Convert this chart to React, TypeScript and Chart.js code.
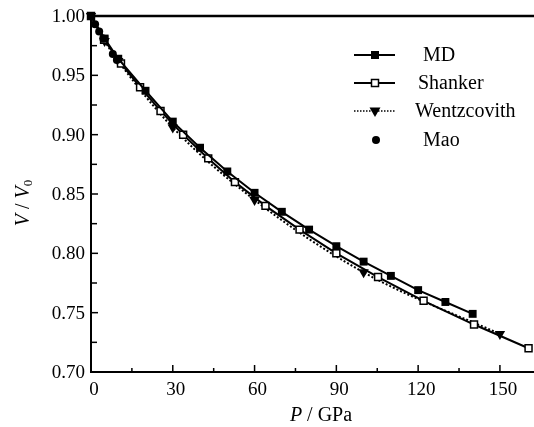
import React, { useEffect, useRef } from "react";
import { Chart, registerables } from "chart.js";

Chart.register(...registerables);

// ---- data ----
const mdP = [0, 5, 10, 20, 30, 40, 50, 60, 70, 80, 90, 100, 110, 120, 130, 140];
const mdV = [1.0, 0.981, 0.964, 0.937, 0.911, 0.889, 0.869, 0.851, 0.835, 0.82, 0.806, 0.793, 0.781, 0.769, 0.759, 0.749];

const shankerP = [0, 4.8, 11, 18, 25.5, 33.8, 43, 52.8, 64, 76.5, 90, 105.3, 122, 140.5, 160.5];
const shankerV = [1.0, 0.98, 0.96, 0.94, 0.92, 0.9, 0.88, 0.86, 0.84, 0.82, 0.8, 0.78, 0.76, 0.74, 0.72];

const wentzP = [0, 5, 10, 30, 60, 100, 150];
const wentzV = [1.0, 0.979, 0.962, 0.906, 0.845, 0.784, 0.732];

const maoP = [0, 1.5, 3, 4.5, 8, 9.5];
const maoV = [1.0, 0.993, 0.987, 0.981, 0.968, 0.963];

const xTicks = [0, 30, 60, 90, 120, 150];
const yTicks = [0.7, 0.75, 0.8, 0.85, 0.9, 0.95, 1.0];
const xLabels = ["0", "30", "60", "90", "120", "150"];
const yLabels = ["0.70", "0.75", "0.80", "0.85", "0.90", "0.95", "1.00"];

const legendNames = ["MD", "Shanker", "Wentzcovith", "Mao"];

const X_MIN = 0;
const X_MAX = 162.5;
const Y_MIN = 0.7;
const Y_MAX = 1.0;

const SERIF = '"Liberation Serif", "Times New Roman", serif';

function toXY(p: number[], v: number[]) {
  return p.map((x, i) => ({ x, y: v[i] }));
}

type Part = { text: string; font: string; dy?: number };

function drawRich(ctx: CanvasRenderingContext2D, parts: Part[], cx: number, cy: number) {
  let total = 0;
  const widths = parts.map((pt) => {
    ctx.font = pt.font;
    const w = ctx.measureText(pt.text).width;
    total += w;
    return w;
  });
  let x = cx - total / 2;
  ctx.textAlign = "left";
  ctx.textBaseline = "middle";
  parts.forEach((pt, i) => {
    ctx.font = pt.font;
    ctx.fillText(pt.text, x, cy + (pt.dy || 0));
    x += widths[i];
  });
}

function drawMarker(ctx: CanvasRenderingContext2D, kind: string, x: number, y: number) {
  ctx.save();
  ctx.fillStyle = "#000";
  ctx.strokeStyle = "#000";
  ctx.setLineDash([]);
  if (kind === "filledSquare") {
    ctx.fillRect(x - 4, y - 4, 8, 8);
  } else if (kind === "openSquare") {
    ctx.fillStyle = "#fff";
    ctx.lineWidth = 1.5;
    ctx.fillRect(x - 3.5, y - 3.5, 7, 7);
    ctx.strokeRect(x - 3.5, y - 3.5, 7, 7);
  } else if (kind === "triangle") {
    ctx.beginPath();
    ctx.moveTo(x - 5.5, y - 3.5);
    ctx.lineTo(x + 5.5, y - 3.5);
    ctx.lineTo(x, y + 6);
    ctx.closePath();
    ctx.fill();
  } else if (kind === "circle") {
    ctx.beginPath();
    ctx.arc(x, y, 4, 0, Math.PI * 2);
    ctx.fill();
  }
  ctx.restore();
}

const framePlugin = {
  id: "frame",
  afterDraw(chart: any) {
    const ctx: CanvasRenderingContext2D = chart.ctx;
    const { left, right, top, bottom } = chart.chartArea;
    const xs = chart.scales.x;
    const ys = chart.scales.y;
    ctx.save();
    ctx.strokeStyle = "#000";
    ctx.fillStyle = "#000";
    ctx.setLineDash([]);

    // axes
    ctx.lineWidth = 2;
    ctx.beginPath();
    ctx.moveTo(left, top);
    ctx.lineTo(left, bottom);
    ctx.lineTo(right, bottom);
    ctx.stroke();
    ctx.lineWidth = 2.5;
    ctx.beginPath();
    ctx.moveTo(left - 1, top);
    ctx.lineTo(right, top);
    ctx.stroke();

    // x ticks (inward)
    ctx.lineWidth = 1.5;
    const xMinor: number[] = [];
    for (let i = 0; i < xTicks.length; i++) {
      const step = i + 1 < xTicks.length ? xTicks[i + 1] - xTicks[i] : xTicks[i] - xTicks[i - 1];
      const m = xTicks[i] + step / 2;
      if (m <= X_MAX) xMinor.push(m);
    }
    xTicks.forEach((v) => {
      if (v === 0) return;
      const px = xs.getPixelForValue(v);
      ctx.beginPath();
      ctx.moveTo(px, bottom);
      ctx.lineTo(px, bottom - 7);
      ctx.stroke();
    });
    xMinor.forEach((v) => {
      const px = xs.getPixelForValue(v);
      ctx.beginPath();
      ctx.moveTo(px, bottom);
      ctx.lineTo(px, bottom - 4);
      ctx.stroke();
    });

    // y ticks (inward)
    const yMinor: number[] = [];
    for (let i = 0; i + 1 < yTicks.length; i++) yMinor.push((yTicks[i] + yTicks[i + 1]) / 2);
    yTicks.forEach((v) => {
      if (v === Y_MIN || v === Y_MAX) return;
      const py = ys.getPixelForValue(v);
      ctx.beginPath();
      ctx.moveTo(left, py);
      ctx.lineTo(left + 7, py);
      ctx.stroke();
    });
    yMinor.forEach((v) => {
      const py = ys.getPixelForValue(v);
      ctx.beginPath();
      ctx.moveTo(left, py);
      ctx.lineTo(left + 6, py);
      ctx.stroke();
    });

    // tick labels
    ctx.font = `19px ${SERIF}`;
    ctx.textAlign = "center";
    ctx.textBaseline = "middle";
    xTicks.forEach((v, i) => {
      ctx.fillText(xLabels[i], xs.getPixelForValue(v) + 3, bottom + 18);
    });
    ctx.textAlign = "right";
    yTicks.forEach((v, i) => {
      ctx.fillText(yLabels[i], left - 6, ys.getPixelForValue(v) + 1);
    });

    // axis titles
    drawRich(
      ctx,
      [
        { text: "P", font: `italic 20px ${SERIF}` },
        { text: " / GPa", font: `20px ${SERIF}` },
      ],
      321,
      bottom + 44
    );
    ctx.save();
    ctx.translate(24, 203);
    ctx.rotate(-Math.PI / 2);
    drawRich(
      ctx,
      [
        { text: "V", font: `italic 20px ${SERIF}` },
        { text: " / ", font: `20px ${SERIF}` },
        { text: "V", font: `italic 20px ${SERIF}` },
        { text: "0", font: `13px ${SERIF}`, dy: 5 },
      ],
      0,
      0
    );
    ctx.restore();

    // legend
    const rows = [55, 83, 111, 140];
    const textX = [423, 418, 415, 423];
    const markers = ["filledSquare", "openSquare", "triangle", "circle"];
    rows.forEach((ry, i) => {
      if (i < 3) {
        ctx.save();
        if (i === 2) {
          ctx.lineWidth = 1.5;
          ctx.setLineDash([1.5, 1.5]);
        } else {
          ctx.lineWidth = 2;
          ctx.setLineDash([]);
        }
        ctx.beginPath();
        ctx.moveTo(354, ry);
        ctx.lineTo(395, ry);
        ctx.stroke();
        ctx.restore();
      }
      drawMarker(ctx, markers[i], i === 3 ? 376 : 375, ry);
      ctx.font = `20px ${SERIF}`;
      ctx.textAlign = "left";
      ctx.textBaseline = "middle";
      ctx.fillStyle = "#000";
      ctx.fillText(legendNames[i], textX[i], ry + 1);
    });

    ctx.restore();
  },
};

export default function App() {
  const ref = useRef<HTMLCanvasElement | null>(null);

  useEffect(() => {
    if (!ref.current) return;
    const chart = new Chart(ref.current, {
      type: "scatter",
      data: {
        datasets: [
          {
            label: legendNames[0],
            data: toXY(mdP, mdV),
            showLine: true,
            borderColor: "#000",
            borderWidth: 2,
            pointStyle: "rect",
            pointRadius: 5.6,
            pointBackgroundColor: "#000",
            pointBorderColor: "#000",
            pointBorderWidth: 0,
            clip: false,
            order: 1,
          },
          {
            label: legendNames[1],
            data: toXY(shankerP, shankerV),
            showLine: true,
            borderColor: "#000",
            borderWidth: 2,
            pointStyle: "rect",
            pointRadius: 4.9,
            pointBackgroundColor: "#fff",
            pointBorderColor: "#000",
            pointBorderWidth: 1.5,
            clip: false,
            order: 2,
          },
          {
            label: legendNames[2],
            data: toXY(wentzP, wentzV),
            showLine: true,
            borderColor: "#000",
            borderWidth: 2,
            borderDash: [2, 2],
            cubicInterpolationMode: "monotone",
            pointStyle: "triangle",
            rotation: 180,
            pointRadius: 6,
            pointBackgroundColor: "#000",
            pointBorderColor: "#000",
            pointBorderWidth: 0,
            clip: false,
            order: 3,
          },
          {
            label: legendNames[3],
            data: toXY(maoP, maoV),
            showLine: false,
            pointStyle: "circle",
            pointRadius: 4,
            pointBackgroundColor: "#000",
            pointBorderColor: "#000",
            pointBorderWidth: 0,
            clip: false,
            order: 0,
          },
        ],
      },
      options: {
        animation: false,
        responsive: false,
        devicePixelRatio: 1,
        layout: { autoPadding: false, padding: { left: 91, top: 16, right: 0, bottom: 55 } },
        plugins: {
          legend: { display: false },
          tooltip: { enabled: false },
        },
        scales: {
          x: { type: "linear", min: X_MIN, max: X_MAX, display: false },
          y: { type: "linear", min: Y_MIN, max: Y_MAX, display: false },
        },
      },
      plugins: [framePlugin],
    });
    return () => chart.destroy();
  }, []);

  return (
    <div
      style={{
        position: "fixed",
        left: 0,
        top: 0,
        width: 534,
        height: 427,
        background: "#fff",
      }}
    >
      <canvas ref={ref} width={534} height={427} style={{ display: "block" }} />
    </div>
  );
}
